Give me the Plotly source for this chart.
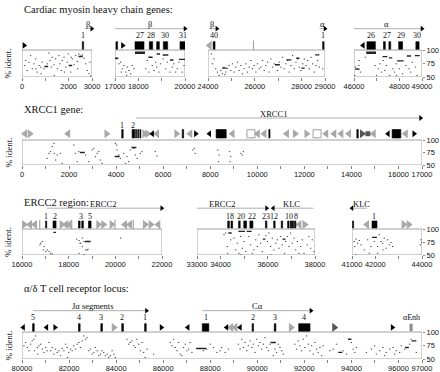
import plotly.graph_objects as go

# ======================= DATA =======================
# ---- Cardiac myosin heavy chain genes ----
cmA_range = [0, 3000]
cmA_tickvals = [0, 1000, 2000, 3000]
cmA_ticktext = ["0", "", "2000", "3000"]
cmA_dots = [(86, 71.3), (129, 80.5), (200, 62), (271, 77.4), (343, 89.6), (414, 65.2), (486, 74.4),
            (557, 83.5), (629, 59.1), (700, 71.3), (771, 68.3), (843, 77.4), (914, 65.2), (1057, 74.4),
            (1129, 94.5), (1171, 80.5), (1229, 68.3), (1271, 86.6), (1343, 72.6), (1414, 83.5),
            (1486, 65.2), (1557, 89.6), (1600, 74.4), (1657, 62), (1700, 80.5), (1771, 86.6),
            (1843, 68.3), (1914, 77.4), (1957, 92.7), (2086, 86.6), (2129, 83.5), (2200, 72.6),
            (2271, 89.6), (2343, 78.6), (2414, 92.7), (2486, 88.4), (2557, 90.9), (2629, 84.8),
            (2700, 74.4), (2771, 62), (2843, 56), (2886, 77.4), (2914, 51.8), (790, 56), (1360, 53),
            (2060, 59.1), (570, 65.2), (2360, 65.2), (1790, 59.1)]
cmA_bars = [(960, 1120, 69.5), (2000, 2150, 71.3), (2420, 2600, 88)]
cmA_exons = [(2585, 2640)]
cmA_exon_labels = [(2612, "1")]
cmA_feats = [(90, "kR")]
cmA_genes = [("β", 2700, 2990, 1, 2820)]

cmB_range = [17000, 20000]
cmB_tickvals = [17000, 18000, 19000, 20000]
cmB_ticktext = ["17000", "18000", "", "20000"]
cmB_dots = [(17043, 83.5), (17143, 74.4), (17214, 77.4), (17286, 65.2), (17357, 71.3), (17429, 59.1),
            (17500, 68.3), (17571, 62), (17643, 56), (17714, 71.3), (17243, 59.1), (17471, 53),
            (17786, 65.2), (18286, 65.2), (18357, 80.5), (18429, 59.1), (18571, 71.3), (18643, 62),
            (18714, 77.4), (18757, 68.3), (18857, 59.1), (18929, 74.4), (19043, 83.5), (19143, 65.2),
            (19214, 77.4), (19329, 59.1), (19429, 68.3), (19500, 74.4), (19571, 59.1), (19643, 65.2),
            (19714, 77.4), (19857, 59.1), (19929, 71.3)]
cmB_bars = [(17857, 18286, 95.7), (17857, 18286, 94.0), (18429, 18614, 86.5), (18786, 18929, 92.6),
            (19043, 19286, 90.7), (19357, 19500, 81.5), (19743, 20000, 82.7), (17000, 17143, 84.6)]
cmB_exons = [(17040, 17110), (17857, 18243), (18471, 18614), (18786, 18900), (19071, 19257), (19786, 20000)]
cmB_exon_labels = [(18050, "27"), (18543, "28"), (19164, "30"), (19893, "31")]
cmB_feats = [(17329, "kR")]
cmB_genes = [("β", 17000, 20000, 1, 18500)]

cmC_range = [24000, 29000]
cmC_tickvals = [24000, 25000, 26000, 27000, 28000, 29000]
cmC_ticktext = ["24000", "", "26000", "", "28000", "29000"]
cmC_dots = [(24116, 92.7), (24230, 83.5), (24302, 65.2), (24373, 59.1), (24445, 53), (24516, 62),
            (24588, 56), (24659, 68.3), (24730, 59.1), (24802, 65.2), (24873, 71.3), (24945, 62),
            (25016, 74.4), (25088, 59.1), (25159, 68.3), (25231, 77.4), (25302, 62), (25373, 71.3),
            (25445, 56), (25516, 65.2), (25588, 74.4), (25659, 59.1), (25731, 68.3), (25802, 80.5),
            (25874, 65.2), (25945, 71.3), (26017, 59.1), (26088, 74.4), (26160, 65.2), (26231, 68.3),
            (26303, 80.5), (26374, 62), (26445, 71.3), (26517, 77.4), (26588, 59.1), (26660, 83.5),
            (26731, 68.3), (26802, 74.4), (26945, 62), (27017, 77.4), (27088, 68.3), (27160, 86.6),
            (27231, 65.2), (27303, 74.4), (27374, 80.5), (27445, 59.1), (27517, 71.3), (27588, 89.6),
            (27660, 65.2), (27731, 77.4), (27803, 83.5), (27874, 68.3), (27945, 62), (28017, 74.4),
            (28088, 83.5), (28160, 71.3), (28231, 80.5), (28303, 65.2), (28374, 86.6), (28445, 74.4),
            (28517, 59.1), (28588, 71.3), (28660, 80.5), (28731, 68.3), (28874, 65.2), (24159, 74.4),
            (24688, 54.3)]
cmC_bars = [(26860, 27070, 72.6), (27350, 27560, 81.7), (27770, 27910, 84.8), (28580, 28760, 90.9),
            (27985, 28130, 66.5), (24600, 24800, 66.5)]
cmC_exons = [(24220, 24300), (28900, 28960)]
cmC_exon_labels = [(24260, "40"), (28930, "1")]
cmC_feats = [(24070, "gL"), (25943, "gB")]
cmC_genes = [("β", 24050, 24380, 1, 24180), ("α", 28760, 29000, 1, 28900)]

cmD_range = [46000, 49000]
cmD_tickvals = [46000, 47000, 48000, 49000]
cmD_ticktext = ["46000", "", "48000", "49000"]
cmD_dots = [(46043, 68.3), (46114, 65.2), (46186, 71.3), (46257, 59.1), (46471, 86.6), (46971, 53),
            (47043, 65.2), (47114, 74.4), (47186, 59.1), (47257, 80.5), (47329, 62), (47400, 71.3),
            (47543, 53), (47686, 65.2), (47757, 59.1), (47829, 74.4), (47971, 65.2), (48114, 56),
            (48257, 71.3), (48400, 65.2), (48471, 59.1), (48543, 77.4), (48686, 68.3), (48757, 53),
            (46010, 53), (46200, 80.5), (46900, 71.3), (47850, 53)]
cmD_bars = [(46543, 46971, 95.7), (46543, 46971, 94.0), (47257, 47471, 87.8), (47543, 47686, 85.4),
            (47900, 48190, 79.9), (48329, 48514, 89), (48686, 48900, 89.6), (46050, 46250, 64.6)]
cmD_exons = [(46571, 46943), (47300, 47380), (47540, 47620), (47971, 48143), (48729, 48871)]
cmD_exon_labels = [(46757, "26"), (47460, "27"), (48057, "29"), (48800, "30")]
cmD_feats = [(46400, "kL")]
cmD_genes = [("α", 46000, 49000, 1, 47450)]

# ---- XRCC1 gene ----
xr_range = [0, 17000]
xr_tickvals = list(range(0, 17001, 1000))
xr_ticktext = ["0", "", "2000", "", "4000", "", "6000", "", "8000", "", "10000", "", "12000", "",
               "14000", "", "16000", "17000"]
xr_dots = [(1045, 63.3), (1187, 76.7), (1328, 93.3), (1350, 73.3), (1469, 70), (1611, 73.3), (1681, 53.3),
           (1399, 60), (1257, 86.7), (1116, 73.3), (2176, 90), (2246, 73.3), (2388, 76.7), (2670, 70),
           (2812, 56.7), (2955, 80), (3094, 66.7), (3236, 76.7), (3306, 60), (3377, 53.3), (2317, 56.7),
           (3165, 73.3), (3024, 83.3), (3942, 93.3), (4013, 80), (4083, 70), (4154, 63.3), (4295, 73.3),
           (4437, 66.7), (4507, 56.7), (4578, 80), (4719, 83.3), (4790, 70), (4861, 63.3), (5002, 73.3),
           (5072, 76.7), (4366, 53.3), (3990, 90), (5638, 76.7), (5708, 68), (7234, 80), (7333, 73.3),
           (7291, 83.3), (8294, 80), (8350, 70), (8322, 56.7), (8789, 76.7), (8845, 66.7), (8817, 56.7),
           (9269, 73.3), (9382, 76.7), (9340, 70)]
xr_bars = [(2460, 2670, 75), (4650, 4860, 85), (3940, 4150, 67)]
xr_exons = [(4240, 4300), (4680, 4790), (4830, 4870), (4920, 4960), (5010, 5050), (6810, 6870),
            (8250, 8680), (10490, 10540), (14230, 14290), (15730, 16100)]
xr_exon_labels = [(4270, "1"), (4735, "2")]
xr_feats = [(130, "gL"), (330, "gR"), (1960, "gL"), (3590, "gR"), (5200, "gR"), (5330, "gR"),
            (5540, "kL"), (5740, "gL"), (6560, "gR"), (7150, "gL"), (7380, "kR"), (7970, "kL"),
            (8950, "gL"), (9730, "w"), (10020, "gL"), (10300, "gL"), (11260, "gL"), (11600, "gR"),
            (12090, "gR"), (12540, "w"), (12930, "gL"), (13270, "gL"), (13570, "gL"), (13900, "gL"),
            (14450, "dR"), (14700, "dS"), (14950, "gL"), (15560, "kL"), (16310, "gL"), (16660, "kR")]
xr_genes = [("XRCC1", 4860, 16940, 1, 10700)]

# ---- ERCC2 region ----
erA_range = [16000, 22000]
erA_tickvals = list(range(16000, 22001, 1000))
erA_ticktext = ["16000", "", "18000", "", "20000", "", "22000"]
erA_dots = [(16771, 72.7), (16843, 76), (16743, 69.5), (16914, 66.2), (16986, 56.5), (17057, 59.7),
            (17129, 56.5), (17200, 53.2), (17271, 51.9), (16886, 59.7), (18314, 80.5), (18414, 77.9),
            (18486, 72.7), (18557, 82.5), (18629, 76), (18457, 72.7), (18557, 66.2), (18700, 59.7),
            (18771, 59.7), (18414, 53.2), (18629, 50.5), (18800, 61), (20200, 82.5)]
erA_bars = [(17343, 17457, 93.5), (18700, 18943, 76)]
erA_exons = [(17010, 17060), (17330, 17460), (18420, 18490), (18560, 18630), (18850, 18960)]
erA_exon_labels = [(17035, "1"), (17395, "2"), (18525, "3"), (18905, "5")]
erA_feats = [(16090, "gR"), (16343, "gL"), (16557, "gL"), (16760, "gB"), (17700, "gR"), (17886, "gL"),
             (18030, "gL"), (18130, "gB"), (19270, "gR"), (19486, "gR"), (19843, "gR"), (19986, "gB"),
             (20414, "gL"), (20629, "gL"), (20771, "gB"), (21271, "gR"), (21514, "gR"), (21843, "gL")]
erA_genes = [("ERCC2", 17060, 21990, 1, 19470)]

erB_range = [33000, 38000]
erB_tickvals = list(range(33000, 38001, 1000))
erB_ticktext = ["33000", "34000", "", "36000", "", "38000"]
erB_dots = [(34116, 89), (34187, 92.2), (34257, 66.3), (34399, 79.2), (34540, 82.5), (34610, 59.8),
            (34681, 72.7), (34752, 53.3), (34822, 85.7), (34893, 63), (34963, 76), (35034, 56.5),
            (35175, 85.7), (35246, 69.5), (35387, 59.8), (35458, 79.2), (35528, 66.3), (35599, 89),
            (35669, 72.7), (35740, 56.5), (35881, 87), (35952, 76), (36022, 92.2), (36093, 66.3),
            (36164, 82.5), (36234, 59.8), (36305, 72.7), (36375, 79.2), (36446, 63), (36517, 85.7),
            (36587, 69.5), (36728, 76), (36799, 85.7), (36870, 66.3), (36940, 92.2), (37011, 72.7),
            (37082, 82.5), (37152, 59.8), (37223, 76), (37364, 66.3), (37505, 53.3), (37646, 69.5),
            (37787, 63), (37858, 79.2), (37928, 56.5), (37717, 85.7), (37434, 79.2), (34270, 53.3),
            (35316, 53.3), (36110, 50.3), (36680, 53.3), (34840, 50.3), (37293, 53.3)]
erB_bars = [(34328, 34470, 92.2), (34752, 35034, 95.5), (35105, 35316, 95.5), (35790, 35900, 80.5),
            (36620, 36750, 80.5)]
erB_exons = [(34300, 34370), (34440, 34510), (34760, 34830), (34980, 35100), (35240, 35370), (35900, 35960),
             (36250, 36310), (36570, 36630), (36840, 36900), (36950, 37010), (37030, 37090), (37130, 37190)]
erB_exon_labels = [(34400, "18"), (34850, "20"), (35310, "22"), (35920, "23"), (36250, "12"),
                   (36880, "10"), (37190, "8")]
erB_feats = [(37340, "gL"), (37560, "gR")]
erB_genes = [("ERCC2", 33000, 35950, 1, 34050), ("KLC", 36230, 37930, -1, 37010)]

erC_range = [41000, 44000]
erC_tickvals = [41000, 42000, 43000, 44000]
erC_ticktext = ["41000", "42000", "", "44000"]
erC_dots = [(41071, 76), (41142, 80.5), (41214, 72.7), (41285, 77.9), (41090, 66.3), (41357, 69.5),
            (41500, 59.8), (41643, 79.2), (41714, 53.3), (41786, 66.3), (41928, 76), (42071, 66.3),
            (42143, 89), (42214, 76), (42286, 72.7), (42357, 82.5), (42428, 63), (42500, 79.2),
            (42571, 69.5), (42643, 74), (42714, 66.3), (42300, 59.8), (43929, 79.2), (43900, 69.5),
            (43960, 74), (41142, 50.3), (42071, 53.3)]
erC_bars = [(41857, 42071, 83.8)]
erC_exons = [(41020, 41070), (41857, 42071)]
erC_exon_labels = [(41964, "1")]
erC_feats = [(41643, "gL"), (43214, "gR"), (43429, "gR")]
erC_genes = [("KLC", 41000, 41650, -1, 41400)]

# ---- alpha/delta T cell receptor locus ----
tcr_range = [80000, 97000]
tcr_tickvals = list(range(80000, 97001, 1000))
tcr_ticktext = ["80000", "", "82000", "", "84000", "", "86000", "", "88000", "", "90000", "", "92000", "",
                "94000", "", "96000", "97000"]
tcr_dots = [(80056, 74.4), (80127, 80.5), (80197, 71.3), (80268, 65.2), (80339, 77.4), (80409, 83.5),
            (80480, 86.6), (80551, 92.7), (80621, 71.3), (80692, 74.4), (80763, 77.4), (80833, 68.3),
            (80904, 62.2), (80975, 71.3), (81045, 65.2), (81116, 80.5), (81187, 65.2), (81257, 71.3),
            (81328, 59.1), (81398, 68.3), (81469, 62.2), (81540, 65.2), (81610, 56.1), (81681, 69.5),
            (81752, 65.2), (81822, 77.4), (81893, 71.3), (81964, 62.2), (82034, 68.3), (82105, 65.2),
            (82176, 74.4), (82246, 68.3), (82317, 77.4), (82388, 80.5), (82458, 71.3), (82529, 83.5),
            (82600, 92.7), (82670, 86.6), (82741, 89.6), (82811, 65.2), (82882, 68.3), (82953, 59.1),
            (83023, 62.2), (83094, 71.3), (83165, 65.2), (83235, 56.1), (83306, 59.1), (83377, 65.2),
            (83447, 62.2), (83518, 56.1), (83589, 59.1), (83659, 53), (83730, 56.1), (83801, 65.2),
            (83871, 59.1), (83942, 53), (84436, 86.6), (84507, 77.4), (84578, 80.5), (84648, 83.5),
            (84719, 74.4), (84790, 71.3), (84860, 86.6), (84931, 77.4), (85002, 65.2), (85072, 80.5),
            (85143, 62.2), (85214, 53), (85284, 68.3), (86273, 80.5), (86344, 74.4), (86414, 86.6),
            (86485, 71.3), (86556, 65.2), (86626, 80.5), (86697, 59.1), (86768, 56.1), (86838, 71.3),
            (86909, 77.4), (86980, 65.2), (87050, 68.3), (87121, 80.5), (87192, 62.2), (87686, 65.2),
            (87828, 68.3), (87969, 77.4), (88110, 71.3), (88252, 62.2), (88393, 65.2), (80640, 59.1),
            (81910, 53), (85567, 59.1), (80500, 65.2),
            (88464, 71.3), (88605, 62.2), (88746, 68.3), (89170, 77.4), (89241, 68.3), (89311, 86.6),
            (89382, 71.3), (89453, 80.5), (89523, 65.2), (89594, 74.4), (89665, 83.5), (89735, 71.3),
            (89806, 77.4), (89877, 62.2), (89947, 86.6), (90018, 74.4), (90089, 80.5), (90159, 68.3),
            (90230, 77.4), (90301, 89.6), (90371, 71.3), (90442, 65.2), (90513, 77.4), (90654, 56.1),
            (90725, 68.3), (90795, 62.2), (90866, 77.4), (90936, 71.3), (91007, 65.2), (91078, 59.1),
            (91572, 77.4), (91643, 68.3), (91713, 83.5), (91784, 74.4), (91855, 65.2), (91925, 86.6),
            (91996, 71.3), (92067, 92.7), (92137, 77.4), (92208, 65.2), (92279, 74.4), (92349, 59.1),
            (92420, 80.5), (92491, 68.3), (92561, 62.2), (92632, 71.3), (92703, 56.1), (92773, 74.4),
            (93056, 65.2), (93197, 68.3), (93339, 77.4), (93621, 65.2), (93762, 59.1), (93974, 80.5),
            (94045, 68.3), (94116, 62.2), (94186, 71.3), (94610, 62.2), (94822, 68.3), (94963, 74.4),
            (95034, 59.1), (95175, 65.2), (95316, 71.3), (95387, 56.1), (95458, 62.2), (95599, 68.3),
            (95741, 71.3), (95811, 59.1), (95882, 65.2), (96023, 62.2), (96094, 74.4), (96235, 68.3),
            (96448, 77.4), (96518, 86.6), (96730, 62.2)]
tcr_bars = [(87400, 87830, 69.5), (90560, 90790, 80.5), (93440, 93620, 62.2), (93860, 94000, 86.6),
            (96280, 96440, 71.3), (96560, 96760, 83.5)]
tcr_exons = [(80450, 80520), (82400, 82470), (83350, 83420), (84240, 84310), (85210, 85280),
             (87660, 87940), (89780, 89840), (90720, 90790), (91760, 92240)]
tcr_enh = [(96470, 96600)]
tcr_exon_labels = [(80480, "5"), (82430, "4"), (83378, "3"), (84270, "2"), (85240, "1"), (87800, "1"),
                   (89810, "2"), (90755, "3"), (92000, "4"), (96535, "αEnh")]
tcr_feats = [(80056, "kL"), (81046, "kL"), (81399, "kR"), (83900, "gR"), (85920, "kR"), (87050, "kL"),
             (88700, "kL"), (88890, "gL"), (89070, "gL"), (89270, "kL"), (91430, "gR"), (93270, "dR"),
             (95740, "kR")]
tcr_genes = [("Jα segments", 80480, 85290, 1, 83020), ("Cα", 87660, 92280, 1, 90020)]

row_titles = ["Cardiac myosin heavy chain genes:", "XRCC1 gene:", "ERCC2 region:",
              "α/δ T cell receptor locus:"]
y_tickvals = [50, 75, 100]
y_ticktext = ["50", "75", "100"]

# ======================= LAYOUT CONSTANTS =======================
W, H = 440, 372
ROW_BOX = {1: (50, 77), 2: (140, 165), 3: (229, 255), 4: (332, 359)}
ROW_TITLE_Y = {1: 10, 2: 110, 3: 203, 4: 288}
YMAX = 155
LEVELS = {
    1: dict(ex=(101.5, 115.5), feat=108.5, num=126, arr=139.5, lab=147.5),
    2: dict(ex=(104, 121), feat=112.5, num=130, arr=144, lab=153),
    3: dict(ex=(102, 115.5), feat=108.5, num=125, arr=140, lab=148.5),
    4: dict(ex=(101.5, 115.5), feat=108.5, num=126, arr=139.5, lab=148),
}
SERIF = "Liberation Serif"
SANS = "Liberation Sans"

panels = [
    dict(row=1, px=(22, 92), rng=cmA_range, tv=cmA_tickvals, tt=cmA_ticktext, dots=cmA_dots, bars=cmA_bars,
         exons=cmA_exons, labels=cmA_exon_labels, feats=cmA_feats, genes=cmA_genes, right=False),
    dict(row=1, px=(115, 185), rng=cmB_range, tv=cmB_tickvals, tt=cmB_ticktext, dots=cmB_dots, bars=cmB_bars,
         exons=cmB_exons, labels=cmB_exon_labels, feats=cmB_feats, genes=cmB_genes, right=False),
    dict(row=1, px=(208, 325), rng=cmC_range, tv=cmC_tickvals, tt=cmC_ticktext, dots=cmC_dots, bars=cmC_bars,
         exons=cmC_exons, labels=cmC_exon_labels, feats=cmC_feats, genes=cmC_genes, right=False),
    dict(row=1, px=(354, 422), rng=cmD_range, tv=cmD_tickvals, tt=cmD_ticktext, dots=cmD_dots, bars=cmD_bars,
         exons=cmD_exons, labels=cmD_exon_labels, feats=cmD_feats, genes=cmD_genes, right=True),
    dict(row=2, px=(22, 422), rng=xr_range, tv=xr_tickvals, tt=xr_ticktext, dots=xr_dots, bars=xr_bars,
         exons=xr_exons, labels=xr_exon_labels, feats=xr_feats, genes=xr_genes, right=True),
    dict(row=3, px=(22, 162), rng=erA_range, tv=erA_tickvals, tt=erA_ticktext, dots=erA_dots, bars=erA_bars,
         exons=erA_exons, labels=erA_exon_labels, feats=erA_feats, genes=erA_genes, right=False),
    dict(row=3, px=(197, 315), rng=erB_range, tv=erB_tickvals, tt=erB_ticktext, dots=erB_dots, bars=erB_bars,
         exons=erB_exons, labels=erB_exon_labels, feats=erB_feats, genes=erB_genes, right=False),
    dict(row=3, px=(352, 422), rng=erC_range, tv=erC_tickvals, tt=erC_ticktext, dots=erC_dots, bars=erC_bars,
         exons=erC_exons, labels=erC_exon_labels, feats=erC_feats, genes=erC_genes, right=True),
    dict(row=4, px=(22, 422), rng=tcr_range, tv=tcr_tickvals, tt=tcr_ticktext, dots=tcr_dots, bars=tcr_bars,
         exons=tcr_exons, labels=tcr_exon_labels, feats=tcr_feats, genes=tcr_genes, right=True,
         enh=tcr_enh),
]

FEAT_STYLE = {
    "gL": dict(symbol="triangle-left", color="#a8a8a8", size=8, line=dict(width=0)),
    "gR": dict(symbol="triangle-right", color="#a8a8a8", size=8, line=dict(width=0)),
    "kL": dict(symbol="triangle-left", color="#000000", size=6, line=dict(width=0)),
    "kR": dict(symbol="triangle-right", color="#000000", size=6, line=dict(width=0)),
    "dR": dict(symbol="triangle-right", color="#555555", size=8, line=dict(width=0)),
    "dS": dict(symbol="square", color="#555555", size=5, line=dict(width=0)),
    "w": dict(symbol="square", color="#ffffff", size=8, line=dict(width=0.8, color="#888888")),
    "gB": dict(symbol="line-ns", color="#a8a8a8", size=7, line=dict(width=1.2, color="#a8a8a8")),
}

fig = go.Figure()
shapes = []
annotations = []
layout_axes = {}

for i, p in enumerate(panels, start=1):
    xa = "x" if i == 1 else f"x{i}"
    ya = "y" if i == 1 else f"y{i}"
    xkey = "xaxis" if i == 1 else f"xaxis{i}"
    ykey = "yaxis" if i == 1 else f"yaxis{i}"
    row = p["row"]
    top, bot = ROW_BOX[row]
    ppu = (bot - top) / 50.0
    top_ext = top - (YMAX - 100) * ppu
    lv = LEVELS[row]
    x0px, x1px = p["px"]
    bp_per_px = (p["rng"][1] - p["rng"][0]) / (x1px - x0px)
    dot_len = 1.3 * bp_per_px

    layout_axes[xkey] = dict(domain=[x0px / W, x1px / W], range=p["rng"], anchor=ya,
                             tickvals=p["tv"], ticktext=p["tt"], ticks="outside", ticklen=2.5,
                             tickwidth=0.8, tickcolor="#666", showgrid=False, zeroline=False,
                             showline=False, tickangle=0, automargin=False, ticklabelstandoff=-1,
                             tickfont=dict(family=SANS, size=7.5, color="#111"), fixedrange=True)
    layout_axes[ykey] = dict(domain=[1 - bot / H, 1 - top_ext / H], range=[50, YMAX], anchor=xa,
                             side="right", tickvals=y_tickvals if p["right"] else [],
                             ticktext=y_ticktext if p["right"] else [],
                             ticks="outside" if p["right"] else "", ticklen=2, tickwidth=0.8,
                             tickcolor="#666", showgrid=False, zeroline=False, showline=False,
                             automargin=False,
                             tickfont=dict(family=SANS, size=7.5, color="#111"), fixedrange=True)

    # frame of the percent identity box
    shapes.append(dict(type="rect", xref=xa, yref=ya, x0=p["rng"][0], x1=p["rng"][1], y0=50, y1=100,
                       line=dict(color="#8a8a8a", width=0.8), fillcolor="rgba(0,0,0,0)", layer="below"))

    # dots (short segments)
    xs, ys = [], []
    for x, pct in p["dots"]:
        xs += [x, x + dot_len, None]
        ys += [pct, pct, None]
    fig.add_trace(go.Scatter(x=xs, y=ys, xaxis=xa, yaxis=ya, mode="lines",
                             line=dict(color="#444", width=1.0), hoverinfo="skip"))
    # longer segments
    xs, ys = [], []
    for a, b, pct in p["bars"]:
        xs += [a, b, None]
        ys += [pct, pct, None]
    fig.add_trace(go.Scatter(x=xs, y=ys, xaxis=xa, yaxis=ya, mode="lines",
                             line=dict(color="#222", width=1.4), hoverinfo="skip"))

    # exons
    for a, b in p["exons"]:
        shapes.append(dict(type="rect", xref=xa, yref=ya, x0=a, x1=b, y0=lv["ex"][0], y1=lv["ex"][1],
                           line=dict(width=0.6, color="#000"), fillcolor="#000"))
    for a, b in p.get("enh", []):
        shapes.append(dict(type="rect", xref=xa, yref=ya, x0=a, x1=b, y0=lv["ex"][0], y1=lv["ex"][1],
                           line=dict(width=0), fillcolor="#8c8c8c"))
    for x, t in p["labels"]:
        annotations.append(dict(x=x, y=lv["num"], xref=xa, yref=ya, text=t, showarrow=False,
                                font=dict(family=SERIF, size=8, color="#111"), xanchor="center",
                                yanchor="middle"))
    # repeat / other features
    for kind in FEAT_STYLE:
        fx = [x for x, k in p["feats"] if k == kind]
        if not fx:
            continue
        st = FEAT_STYLE[kind]
        fig.add_trace(go.Scatter(x=fx, y=[lv["feat"]] * len(fx), xaxis=xa, yaxis=ya, mode="markers",
                                 marker=dict(symbol=st["symbol"], color=st["color"], size=st["size"],
                                             line=st["line"]), hoverinfo="skip", cliponaxis=False))
    # genes
    for name, a, b, d, lx in p["genes"]:
        fig.add_trace(go.Scatter(x=[a, b], y=[lv["arr"], lv["arr"]], xaxis=xa, yaxis=ya, mode="lines",
                                 line=dict(color="#9a9a9a", width=0.8), hoverinfo="skip", cliponaxis=False))
        head = b if d > 0 else a
        fig.add_trace(go.Scatter(x=[head], y=[lv["arr"]], xaxis=xa, yaxis=ya, mode="markers",
                                 marker=dict(symbol="triangle-right" if d > 0 else "triangle-left",
                                             color="#000", size=5, line=dict(width=0)),
                                 hoverinfo="skip", cliponaxis=False))
        annotations.append(dict(x=lx, y=lv["lab"], xref=xa, yref=ya, text=name, showarrow=False,
                                font=dict(family=SERIF, size=8.5, color="#111"), xanchor="center",
                                yanchor="middle"))

# row titles and y titles
for r in range(1, 5):
    annotations.append(dict(x=22 / W, y=1 - ROW_TITLE_Y[r] / H, xref="paper", yref="paper",
                            text=row_titles[r - 1], showarrow=False, xanchor="left", yanchor="middle",
                            font=dict(family=SERIF, size=10.5, color="#111")))
    top, bot = ROW_BOX[r]
    annotations.append(dict(x=8 / W, y=1 - (top + bot) / 2 / H, xref="paper", yref="paper",
                            text="% ident.", showarrow=False, textangle=-90, xanchor="center",
                            yanchor="middle", font=dict(family=SERIF, size=9, color="#111")))

fig.update_layout(width=W, height=H, margin=dict(l=0, r=0, t=0, b=0, autoexpand=False),
                  paper_bgcolor="white", plot_bgcolor="white", showlegend=False, shapes=shapes,
                  annotations=annotations, **layout_axes)

fig.write_html("out.html", config={"displayModeBar": False, "staticPlot": True},
               post_script="document.body.style.margin='0';document.body.style.padding='0';"
                           "document.body.style.overflow='hidden';")
